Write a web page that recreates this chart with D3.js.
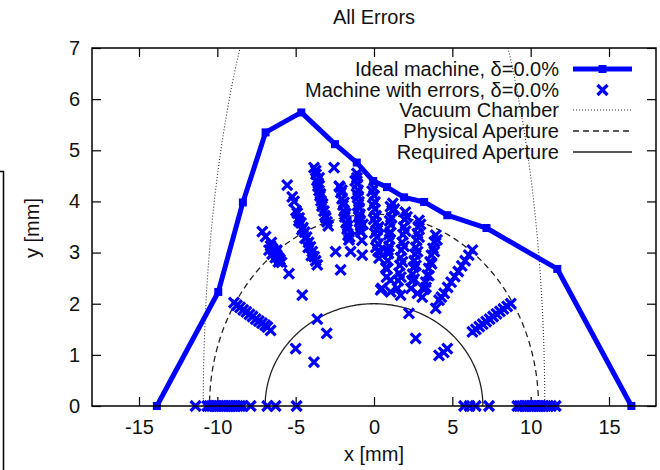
<!DOCTYPE html>
<html>
<head>
<meta charset="utf-8">
<script src="https://cdn.jsdelivr.net/npm/d3@7"></script>
<style>
  body { margin: 0; background: #fff; }
  text { font-family: "Liberation Sans", Arial, sans-serif; fill: #111; }
</style>
</head>
<body>
<div id="chart"></div>
<script>
// ideal machine, delta = 0.0%
const idealX = [-13.86, -9.94, -8.37, -6.92, -4.64, -2.49, -1.1, -0.05, 0.83, 1.92, 3.2, 4.68, 7.18, 11.7, 16.43];
const idealY = [0, 2.23, 3.98, 5.35, 5.74, 5.12, 4.76, 4.4, 4.28, 4.08, 3.99, 3.73, 3.48, 2.68, 0];

// machine with errors, delta = 0.0%  ([x, y] in mm, one block per direction)
const errLeft = [
  // 180 deg
  [-11.39, 0], [-10.64, 0], [-10.5, 0], [-10.35, 0], [-10.2, 0], [-10.05, 0], [-9.9, 0], [-9.75, 0], [-9.6, 0], [-9.45, 0],
  [-9.3, 0], [-9.15, 0], [-9.0, 0], [-8.85, 0], [-8.7, 0], [-8.55, 0], [-8.4, 0], [-7.87, 0], [-6.81, 0], [-6.28, 0], [-4.94, 0],
  // 167 deg
  [-8.94, 2.02], [-8.75, 1.97], [-8.55, 1.93], [-8.35, 1.88], [-8.15, 1.84], [-7.95, 1.79], [-7.75, 1.75], [-7.55, 1.7],
  [-7.35, 1.66], [-7.15, 1.62], [-6.95, 1.58], [-6.8, 1.54], [-6.6, 1.48], [-5.0, 1.12], [-3.83, 0.86],
  // 154 deg
  [-7.13, 3.41], [-6.92, 3.31], [-6.6, 3.13], [-6.5, 3.08], [-6.4, 3.04], [-6.3, 2.99], [-6.2, 2.95], [-6.1, 2.9],
  [-6.0, 2.86], [-5.9, 2.81], [-5.43, 2.59], [-4.58, 2.17], [-3.62, 1.7], [-3.02, 1.42],
  [-6.7, 3.05], [-6.5, 2.97], [-6.3, 2.9], [-6.1, 2.82], [-6.55, 3.2], [-6.2, 3.05],
  // 141 deg
  [-5.54, 4.32], [-5.22, 4.09], [-5.1, 4.0], [-4.9, 3.77], [-4.78, 3.68], [-4.66, 3.58], [-4.54, 3.49], [-4.42, 3.4],
  [-4.3, 3.3], [-4.18, 3.2], [-4.06, 3.11], [-3.94, 3.02], [-3.82, 2.92], [-3.72, 2.84], [-3.62, 2.76],
  [-4.98, 3.82], [-4.8, 3.62], [-4.6, 3.45], [-4.4, 3.28], [-4.2, 3.1], [-4.0, 2.94],
  // 129 deg
  [-3.83, 4.66], [-3.7, 4.53], [-3.64, 4.41], [-3.58, 4.3], [-3.51, 4.21], [-3.45, 4.11], [-3.38, 4.01], [-3.32, 3.91],
  [-3.19, 3.81], [-3.13, 3.72], [-3.0, 3.6],
  [-3.72, 4.6], [-3.5, 4.46], [-3.56, 4.36], [-3.42, 4.15], [-3.28, 3.95], [-3.08, 3.68], [-2.92, 3.52],
  // 116 deg
  [-2.55, 4.66], [-2.17, 4.28], [-2.11, 4.17], [-2.04, 4.05], [-1.98, 3.93], [-1.92, 3.81], [-1.86, 3.7], [-1.79, 3.58],
  [-1.72, 3.46], [-1.66, 3.34], [-1.6, 3.25], [-2.45, 3.02], [-2.13, 2.66], [-1.49, 3.02],
  [-2.22, 4.3], [-2.05, 4.22], [-1.92, 3.98], [-1.8, 3.76], [-1.68, 3.52], [-1.55, 3.3],
  // 103 deg
  [-1.09, 4.55], [-1.09, 4.46], [-1.06, 4.34], [-1.02, 4.22], [-1.0, 4.1], [-0.96, 3.99], [-0.94, 3.87], [-0.9, 3.75],
  [-0.88, 3.63], [-0.85, 3.52], [-0.83, 3.4], [-0.77, 3.24], [-0.75, 2.95],
  [-1.2, 4.4], [-1.12, 4.15], [-1.05, 3.92], [-0.98, 3.7], [-0.92, 3.45], [-0.7, 3.55]
];
const errRight = [
  // 90 deg
  [0, 4.26], [0, 4.12], [0.06, 3.99], [0.06, 3.85], [0.13, 3.72], [0.13, 3.58], [0.19, 3.44], [0.19, 3.3],
  [0.26, 3.17], [0.26, 3.03], [0.32, 2.89], [0.43, 2.27], [0.49, 2.3],
  [-0.12, 4.2], [-0.08, 3.93], [-0.02, 3.65], [0.05, 3.38], [0.12, 3.1], [0.38, 3.0], [0.3, 3.5],
  // 77 deg
  [1.2, 3.96], [1.16, 3.82], [1.12, 3.68], [1.08, 3.54], [1.04, 3.4], [1.0, 3.26], [0.96, 3.12], [0.92, 2.98],
  [0.88, 2.84], [0.84, 2.68], [0.8, 2.52], [1.06, 2.46], [1.06, 2.23],
  [1.3, 3.85], [1.05, 3.9], [1.0, 3.62], [0.95, 3.35], [0.9, 3.05], [0.75, 2.7],
  // 64 deg
  [2.0, 3.79], [1.95, 3.65], [1.9, 3.5], [1.85, 3.35], [1.8, 3.2], [1.75, 3.05], [1.7, 2.9], [1.65, 2.75],
  [1.6, 2.6], [1.55, 2.45], [1.5, 2.3], [1.7, 2.17],
  [2.1, 3.7], [2.02, 3.42], [1.92, 3.12], [1.82, 2.82], [1.72, 2.52],
  // 51 deg
  [2.87, 3.63], [2.82, 3.5], [2.77, 3.37], [2.72, 3.24], [2.67, 3.1], [2.62, 2.97], [2.57, 2.84], [2.52, 2.71],
  [2.47, 2.58], [2.42, 2.45], [2.36, 2.3], [2.77, 2.2], [2.23, 1.81], [2.66, 1.32],
  [2.97, 3.55], [2.88, 3.3], [2.78, 3.02], [2.68, 2.75], [2.56, 2.48],
  // 39 deg
  [3.94, 3.34], [3.85, 3.21], [3.76, 3.08], [3.67, 2.95], [3.58, 2.82], [3.49, 2.69], [3.4, 2.56], [3.3, 2.42],
  [3.2, 2.28], [3.08, 2.13],
  [4.02, 3.25], [3.85, 3.02], [3.68, 2.78], [3.5, 2.55], [3.32, 2.32],
  // 26 deg
  [6.28, 3.05], [6.05, 2.95], [5.82, 2.84], [5.6, 2.74], [5.38, 2.63], [5.15, 2.53], [4.92, 2.42], [4.7, 2.32],
  [4.48, 2.2], [4.3, 2.13], [4.15, 2.07], [3.94, 1.91], [4.15, 0.99], [4.45, 1.05], [4.68, 1.12],
  // 13 deg
  [6.28, 1.45], [6.5, 1.5], [6.72, 1.55], [6.94, 1.6], [7.16, 1.65], [7.38, 1.7], [7.6, 1.75], [7.82, 1.8],
  [8.04, 1.85], [8.26, 1.9], [8.5, 1.95], [8.73, 2.0],
  // 0 deg
  [5.75, 0], [6.1, 0], [6.49, 0], [7.34, 0], [9.15, 0], [9.3, 0], [9.45, 0], [9.6, 0], [9.75, 0], [9.9, 0],
  [10.05, 0], [10.2, 0], [10.35, 0], [10.5, 0], [10.65, 0], [10.8, 0], [10.95, 0], [11.1, 0], [11.3, 0], [11.6, 0]
];

// aperture outlines: semi-axes [a, b] in mm
const vacuumChamber = [10.9, 11.3];
const physicalAperture = [10.5, 3.75];
const requiredAperture = [6.95, 2.0];

const xTicks = [-15, -10, -5, 0, 5, 10, 15];
const yTicks = [0, 1, 2, 3, 4, 5, 6, 7];

const legendLabels = ['Ideal machine, \u03b4=0.0%', 'Machine with errors, \u03b4=0.0%', 'Vacuum Chamber', 'Physical Aperture', 'Required Aperture'];

const W = 660, H = 470;
const margin = { top: 48, right: 4, bottom: 64, left: 92 };
const w = W - margin.left - margin.right;
const h = H - margin.top - margin.bottom;
const blue = '#0000ff';
const fontSize = '20px';

const svg = d3.select('#chart').append('svg')
    .attr('width', W).attr('height', H);

// stray frame at the left edge of the crop
svg.append('path')
    .attr('d', 'M0,171.5H3.5V470')
    .attr('fill', 'none').attr('stroke', '#000').attr('stroke-width', 1.5);

const g = svg.append('g').attr('transform', `translate(${margin.left}, ${margin.top})`);

const x = d3.scaleLinear().domain([-18, 18]).range([0, w]);
const y = d3.scaleLinear().domain([0, 7]).range([h, 0]);

g.append('clipPath').attr('id', 'clip')
    .append('rect').attr('width', w).attr('height', h);

// ticks on all four sides, pointing inward
const tick = 9;
g.append('g').attr('transform', `translate(0, ${h})`)
    .call(d3.axisBottom(x).tickValues(xTicks).tickSize(-tick).tickPadding(14).tickFormat(d3.format('d')))
    .call(a => a.select('.domain').remove());
g.append('g')
    .call(d3.axisTop(x).tickValues(xTicks).tickSize(-tick).tickFormat(''))
    .call(a => a.select('.domain').remove());
g.append('g')
    .call(d3.axisLeft(y).tickValues(yTicks).tickSize(-tick).tickPadding(12).tickFormat(d3.format('d')))
    .call(a => a.select('.domain').remove());
g.append('g').attr('transform', `translate(${w}, 0)`)
    .call(d3.axisRight(y).tickValues(yTicks).tickSize(-tick).tickFormat(''))
    .call(a => a.select('.domain').remove());
g.selectAll('.tick line').attr('stroke', '#000').attr('stroke-width', 1.2);
g.selectAll('.tick text').style('font-size', fontSize).attr('fill', '#111')
    .text(function () { return d3.select(this).text().replace('\u2212', '-'); });

// apertures
function ellipse(ab, n) {
    const pts = d3.range(n + 1).map(i => {
        const t = Math.PI * i / n;
        return [ab[0] * Math.cos(t), ab[1] * Math.sin(t)];
    });
    return d3.line().x(d => x(d[0])).y(d => y(d[1]))(pts);
}
const plot = g.append('g').attr('clip-path', 'url(#clip)');
plot.append('path').attr('d', ellipse(vacuumChamber, 200))
    .attr('fill', 'none').attr('stroke', '#333').attr('stroke-width', 1.1).attr('stroke-dasharray', '1,2');
plot.append('path').attr('d', ellipse(physicalAperture, 200))
    .attr('fill', 'none').attr('stroke', '#222').attr('stroke-width', 1.3).attr('stroke-dasharray', '6,4');
plot.append('path').attr('d', ellipse(requiredAperture, 200))
    .attr('fill', 'none').attr('stroke', '#222').attr('stroke-width', 1.3);

// crosses
const cross = (cx, cy, r) => `M${cx - r},${cy - r}L${cx + r},${cy + r}M${cx - r},${cy + r}L${cx + r},${cy - r}`;
g.selectAll('.err').data(errLeft.concat(errRight)).enter().append('path')
    .attr('class', 'err')
    .attr('d', d => cross(x(d[0]), y(d[1]), 5))
    .attr('stroke', blue).attr('stroke-width', 3.2).attr('fill', 'none');

// ideal line
const idealPts = idealX.map((v, i) => [v, idealY[i]]);
g.append('path').datum(idealPts)
    .attr('d', d3.line().x(d => x(d[0])).y(d => y(d[1])))
    .attr('fill', 'none').attr('stroke', blue).attr('stroke-width', 5).attr('stroke-linejoin', 'round');
g.selectAll('.ideal').data(idealPts).enter().append('rect')
    .attr('x', d => x(d[0]) - 4).attr('y', d => y(d[1]) - 4)
    .attr('width', 8).attr('height', 8).attr('fill', blue);

// frame
g.append('rect').attr('width', w).attr('height', h)
    .attr('fill', 'none').attr('stroke', '#000').attr('stroke-width', 1.5);

// legend
const lg = svg.append('g');
const rowY = [69, 90, 110, 131, 152];
legendLabels.forEach((t, i) => {
    lg.append('text').attr('x', 559).attr('y', rowY[i] + 7)
        .attr('text-anchor', 'end').style('font-size', fontSize).text(t);
});
lg.append('line').attr('x1', 573).attr('x2', 632).attr('y1', rowY[0]).attr('y2', rowY[0])
    .attr('stroke', blue).attr('stroke-width', 5);
lg.append('rect').attr('x', 598.5).attr('y', rowY[0] - 4).attr('width', 8).attr('height', 8).attr('fill', blue);
lg.append('path').attr('d', cross(602.5, rowY[1], 5)).attr('stroke', blue).attr('stroke-width', 3.2);
lg.append('line').attr('x1', 573).attr('x2', 632).attr('y1', rowY[2]).attr('y2', rowY[2])
    .attr('stroke', '#333').attr('stroke-width', 1.1).attr('stroke-dasharray', '1,2');
lg.append('line').attr('x1', 573).attr('x2', 632).attr('y1', rowY[3]).attr('y2', rowY[3])
    .attr('stroke', '#222').attr('stroke-width', 1.3).attr('stroke-dasharray', '6,4');
lg.append('line').attr('x1', 573).attr('x2', 632).attr('y1', rowY[4]).attr('y2', rowY[4])
    .attr('stroke', '#222').attr('stroke-width', 1.3);

// titles
svg.append('text').attr('x', 374).attr('y', 24).attr('text-anchor', 'middle')
    .style('font-size', fontSize).text('All Errors');
svg.append('text').attr('x', 374).attr('y', 461).attr('text-anchor', 'middle')
    .style('font-size', fontSize).text('x [mm]');
svg.append('text').attr('transform', 'translate(39, 228) rotate(-90)').attr('text-anchor', 'middle')
    .style('font-size', fontSize).text('y [mm]');
</script>
</body>
</html>
